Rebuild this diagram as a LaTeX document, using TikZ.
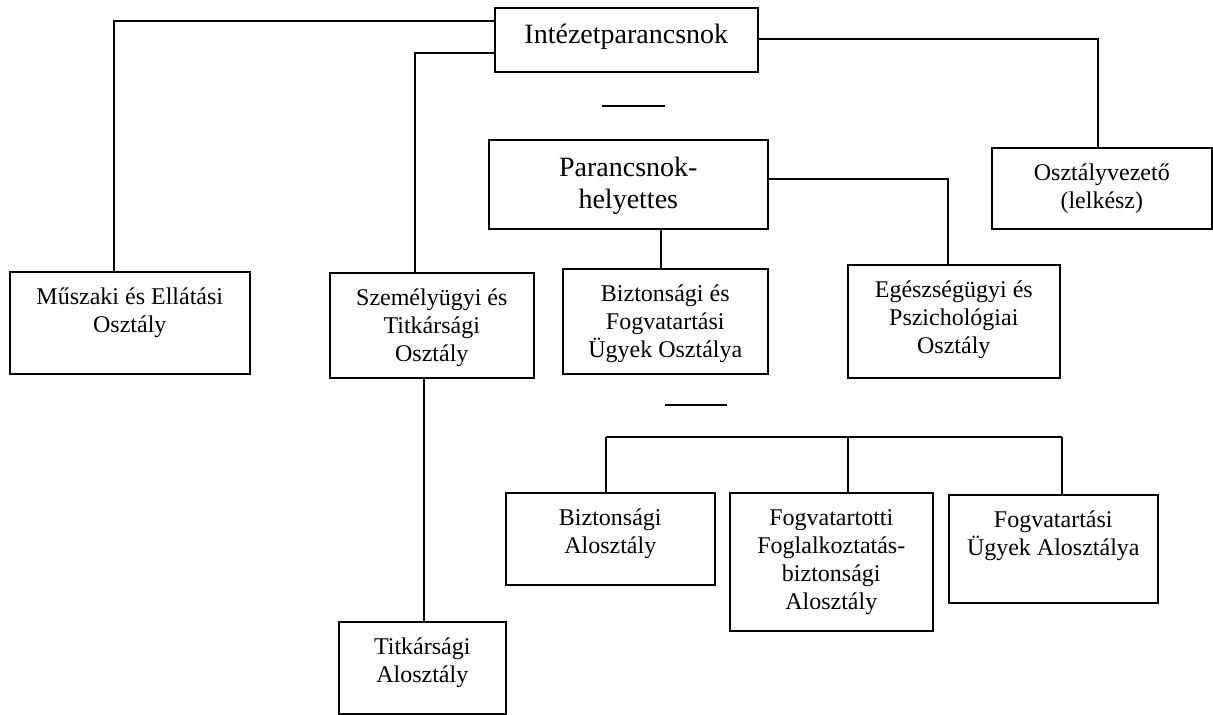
\documentclass[tikz,border=0pt]{standalone}
\usepackage{fontspec}
\setmainfont{Liberation Serif}
\newlength\pxu
\setlength\pxu{0.5pt}
\newcommand{\tb}[4]{\parbox[c][#2\pxu][t]{#1\pxu}{\centering\rule{0pt}{#3}#4}}
\tikzset{
  orgbox/.style={draw, line width=0.8pt, inner sep=0pt, anchor=north west,
    font=\fontsize{12}{14}\selectfont},
  bigbox/.style={orgbox, font=\fontsize{14}{16}\selectfont},
  conn/.style={line width=0.8pt}
}
\begin{document}
\begin{tikzpicture}[x=0.5pt, y=-0.5pt]
\useasboundingbox (0,0) rectangle (1213,715);
% boxes
\node[bigbox] (A) at (494,7)   {\tb{263}{64}{18pt}{Intézetparancsnok}};
\node[bigbox] (B) at (488,139) {\tb{279}{89}{18.5pt}{Parancsnok-\\helyettes}};
\node[orgbox] (C) at (991,147) {\tb{220}{81}{16.5pt}{Osztályvezető\\(lelkész)}};
\node[orgbox] (D) at (9,271)   {\tb{240}{102}{16.5pt}{Műszaki és Ellátási\\Osztály}};
\node[orgbox] (E) at (329,272) {\tb{204}{105}{16.5pt}{Személyügyi és\\Titkársági\\Osztály}};
\node[orgbox] (F) at (562,268) {\tb{205}{105}{16.5pt}{Biztonsági és\\Fogvatartási\\Ügyek Osztálya}};
\node[orgbox] (G) at (847,264) {\tb{212}{113}{16.5pt}{Egészségügyi és\\Pszichológiai\\Osztály}};
\node[orgbox] (H) at (505,492) {\tb{209}{92}{16.5pt}{Biztonsági\\Alosztály}};
\node[orgbox] (I) at (729,492) {\tb{203}{138}{16.5pt}{Fogvatartotti\\Foglalkoztatás-\\biztonsági\\Alosztály}};
\node[orgbox] (J) at (948,494) {\tb{209}{108}{16.5pt}{Fogvatartási\\Ügyek Alosztálya}};
\node[orgbox] (K) at (338,621) {\tb{167}{92}{16.5pt}{Titkársági\\Alosztály}};
% bend points
\coordinate (a1) at (114,21);
\coordinate (a2) at (415,53);
\coordinate (a3) at (1098,39);
\coordinate (b1) at (661,228);
\coordinate (b2) at (948,179);
\coordinate (e1) at (424,377);
\coordinate (bus1) at (606,437);
\coordinate (bus2) at (848,437);
\coordinate (bus3) at (1062,437);
\coordinate (s1a) at (602,106);
\coordinate (s1b) at (665,106);
\coordinate (s2a) at (665,405);
\coordinate (s2b) at (727,405);
% connectors
\draw[conn] (A.west |- a1) -- (a1) -- (a1 |- D.north);
\draw[conn] (A.west |- a2) -- (a2) -- (a2 |- E.north);
\draw[conn] (A.east |- a3) -- (a3) -- (a3 |- C.north);
\draw[conn] (b1 |- B.south) -- (b1 |- F.north);
\draw[conn] (B.east |- b2) -- (b2) -- (b2 |- G.north);
\draw[conn] (e1 |- E.south) -- (e1 |- K.north);
\draw[conn] (bus1) -- (bus3);
\draw[conn] (bus1) -- (bus1 |- H.north);
\draw[conn] (bus2) -- (bus2 |- I.north);
\draw[conn] (bus3) -- (bus3 |- J.north);
\draw[conn] (s1a) -- (s1b);
\draw[conn] (s2a) -- (s2b);
\end{tikzpicture}
\end{document}
